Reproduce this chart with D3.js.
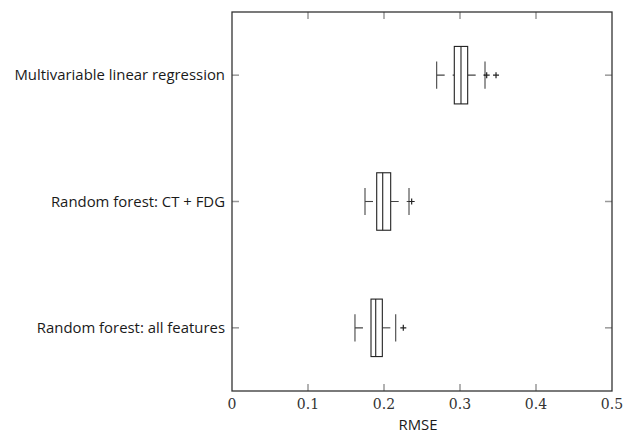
<!DOCTYPE html>
<html>
  <head>
    <meta http-equiv="Content-Type" content="text/html;charset=utf-8">
    <title>RMSE box plots</title>
    <script type="text/javascript" src="https://d3js.org/d3.v7.min.js"></script>
    <style>
      html, body { margin: 0; padding: 0; background: #fff; }
      .cat { font-family: "Open Sans", sans-serif; font-size: 14.9px; fill: #1a1a1a; }
      .tick-label { font-family: "DejaVu Serif", serif; font-size: 14px; fill: #333; }
      .axis-title { font-family: "Open Sans", sans-serif; font-size: 14.9px; fill: #1a1a1a; }
      .frame { fill: none; stroke: #333; stroke-width: 1.3px; }
      .tickmark { stroke: #999; stroke-width: 1.5px; }
      .box { fill: #fff; stroke: #222; stroke-width: 1.1px; }
      .whisker { stroke: #444; stroke-width: 1.1px; }
      .outlier { stroke: #222; stroke-width: 1.2px; }
    </style>
  </head>
  <body>
  <script type="text/javascript">

// top to bottom
var categories = ["Multivariable linear regression", "Random forest: CT + FDG", "Random forest: all features"];
var lowWhisker = [0.2693, 0.1750, 0.1618];
var q1 =         [0.2925, 0.1904, 0.1829];
var medians =    [0.3013, 0.1983, 0.1891];
var q3 =         [0.3101, 0.2088, 0.1978];
var highWhisker= [0.3329, 0.2329, 0.2154];
var outliers =   [[0.3351, 0.3474], [0.2364], [0.2254]];
var xTicks = [0, 0.1, 0.2, 0.3, 0.4, 0.5];

var W = 631, H = 432;
var plot = {left: 232, right: 612, top: 12, bottom: 391};

var svg = d3.select("body").append("svg").attr("width", W).attr("height", H);

var x = d3.scaleLinear().domain([0, 0.5]).range([plot.left, plot.right]);
var y = d3.scaleBand().domain(categories).range([plot.top, plot.bottom]);
var band = y.bandwidth();
var boxH = band * 0.455, capH = band * 0.215;

function cy(i) { return y(categories[i]) + band / 2; }

// x tick marks (bottom and top, inward)
xTicks.forEach(function(t) {
  if (t === 0 || t === 0.5) return;
  svg.append("line").attr("class", "tickmark")
    .attr("x1", x(t)).attr("x2", x(t)).attr("y1", plot.bottom).attr("y2", plot.bottom - 7);
  svg.append("line").attr("class", "tickmark")
    .attr("x1", x(t)).attr("x2", x(t)).attr("y1", plot.top).attr("y2", plot.top + 7);
});

// y tick marks (left and right, inward)
categories.forEach(function(c, i) {
  svg.append("line").attr("class", "tickmark")
    .attr("x1", plot.left).attr("x2", plot.left + 7).attr("y1", cy(i)).attr("y2", cy(i));
  svg.append("line").attr("class", "tickmark")
    .attr("x1", plot.right).attr("x2", plot.right - 7).attr("y1", cy(i)).attr("y2", cy(i));
});

// boxes
categories.forEach(function(c, i) {
  var g = svg.append("g");
  var yc = cy(i);
  // whiskers are dashed; lower one starts at the whisker end, upper at the box
  g.append("line").attr("class", "whisker").attr("stroke-dasharray", "8,8")
    .attr("x1", x(lowWhisker[i])).attr("x2", x(q1[i])).attr("y1", yc).attr("y2", yc);
  g.append("line").attr("class", "whisker").attr("stroke-dasharray", "8,8")
    .attr("x1", x(q3[i])).attr("x2", x(highWhisker[i])).attr("y1", yc).attr("y2", yc);
  g.append("line").attr("class", "whisker")
    .attr("x1", x(lowWhisker[i])).attr("x2", x(lowWhisker[i]))
    .attr("y1", yc - capH / 2).attr("y2", yc + capH / 2);
  g.append("line").attr("class", "whisker")
    .attr("x1", x(highWhisker[i])).attr("x2", x(highWhisker[i]))
    .attr("y1", yc - capH / 2).attr("y2", yc + capH / 2);
  g.append("rect").attr("class", "box")
    .attr("x", x(q1[i])).attr("width", x(q3[i]) - x(q1[i]))
    .attr("y", yc - boxH / 2).attr("height", boxH);
  g.append("line").attr("class", "box")
    .attr("x1", x(medians[i])).attr("x2", x(medians[i]))
    .attr("y1", yc - boxH / 2).attr("y2", yc + boxH / 2);
  outliers[i].forEach(function(o) {
    g.append("path").attr("class", "outlier")
      .attr("d", "M" + (x(o) - 3) + "," + yc + "H" + (x(o) + 3) +
                 "M" + x(o) + "," + (yc - 3) + "V" + (yc + 3));
  });
});

// frame
svg.append("rect").attr("class", "frame")
  .attr("x", plot.left).attr("y", plot.top)
  .attr("width", plot.right - plot.left).attr("height", plot.bottom - plot.top);

// labels
svg.selectAll(".cat").data(categories).enter().append("text")
  .attr("class", "cat")
  .attr("x", 225)
  .attr("y", function(d, i) { return cy(i); })
  .attr("dy", "0.35em")
  .attr("text-anchor", "end")
  .text(function(d) { return d; });

svg.selectAll(".tick-label").data(xTicks).enter().append("text")
  .attr("class", "tick-label")
  .attr("x", function(d) { return x(d); })
  .attr("y", 409)
  .attr("text-anchor", "middle")
  .text(function(d) { return d3.format("")(d); });

svg.append("text").attr("class", "axis-title")
  .attr("x", (plot.left + plot.right) / 2 - 4).attr("y", 430)
  .attr("text-anchor", "middle")
  .text("RMSE");

  </script>
  </body>
</html>
